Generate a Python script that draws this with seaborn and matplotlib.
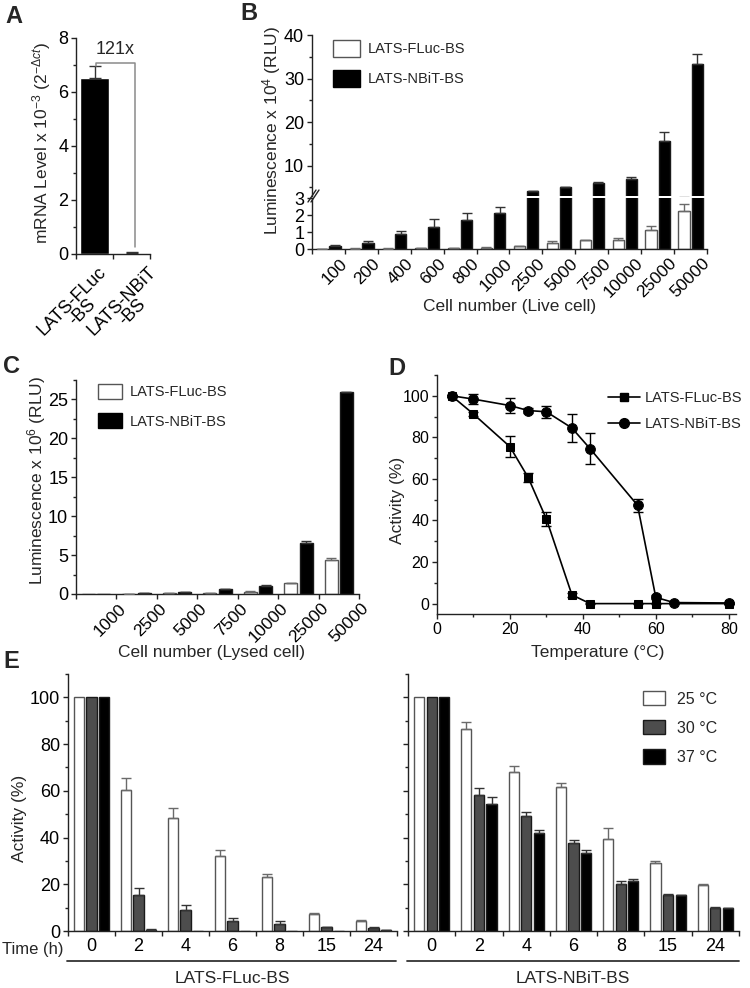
import numpy as np
import pandas as pd
import matplotlib
matplotlib.use('Agg')
import matplotlib.pyplot as plt
import matplotlib.transforms as mtransforms
from matplotlib.patches import Patch
from matplotlib.lines import Line2D
from matplotlib.ticker import MultipleLocator
import seaborn as sns

# ---------------- data ----------------
# A: mRNA level
a_constructs = ['LATS-FLuc-BS', 'LATS-NBiT-BS']
a_ticklabels = ['LATS-FLuc\n-BS', 'LATS-NBiT\n-BS']
a_values = [6.5, 0.054]
a_sem = [0.45, 0.01]

# B: live cells, luminescence x 10^4
b_cells = ['100', '200', '400', '600', '800', '1000', '2500', '5000', '7500', '10000', '25000', '50000']
b_fluc = [0.01, 0.02, 0.02, 0.04, 0.05, 0.08, 0.15, 0.33, 0.51, 0.55, 1.09, 2.25]
b_fluc_sem = [0.005, 0.01, 0.01, 0.01, 0.01, 0.02, 0.03, 0.14, 0.04, 0.07, 0.24, 0.41]
b_nbit = [0.2, 0.35, 0.88, 1.27, 1.72, 2.14, 4.07, 4.97, 5.88, 6.86, 15.6, 33.4]
b_nbit_sem = [0.05, 0.1, 0.2, 0.49, 0.39, 0.36, 0.15, 0.15, 0.3, 0.4, 2.1, 2.2]

# C: lysed cells, luminescence x 10^6
c_cells = ['1000', '2500', '5000', '7500', '10000', '25000', '50000']
c_fluc = [0.01, 0.04, 0.1, 0.15, 0.3, 1.37, 4.36]
c_fluc_sem = [0.0, 0.01, 0.01, 0.02, 0.03, 0.08, 0.22]
c_nbit = [0.03, 0.08, 0.25, 0.6, 1.06, 6.58, 25.9]
c_nbit_sem = [0.0, 0.01, 0.02, 0.04, 0.05, 0.25, 0.1]

# D: thermal stability
d_temp_fluc = [4, 10, 20, 25, 30, 37, 42, 55, 60, 80]
d_fluc = [100, 91.2, 75.5, 60.7, 40.7, 4.2, 0, 0, 0, 0]
d_fluc_sem = [0.5, 1.0, 5.0, 2.0, 3.3, 0.8, 0.3, 0.3, 0.3, 0.3]
d_temp_nbit = [4, 10, 20, 25, 30, 37, 42, 55, 60, 65, 80]
d_nbit = [100, 98.4, 95.3, 92.9, 92.3, 84.5, 74.5, 47.3, 3.0, 0.5, 0.3]
d_nbit_sem = [0.5, 2.4, 3.6, 1.3, 3.0, 6.9, 7.5, 3.2, 1.0, 0.3, 0.3]

# E: activity over time at 3 temperatures
e_times = ['0', '2', '4', '6', '8', '15', '24']
e_temps = ['25 °C', '30 °C', '37 °C']
e_fluc_25 = [100, 60.4, 48.2, 32.1, 22.9, 7.4, 4.2]
e_fluc_25_sem = [0, 4.9, 4.3, 2.5, 1.4, 0.5, 0.3]
e_fluc_30 = [100, 15.3, 8.9, 4.2, 3.2, 1.7, 1.3]
e_fluc_30_sem = [0, 2.9, 2.1, 1.4, 1.0, 0.2, 0.6]
e_fluc_37 = [100, 0.6, 0.1, 0.0, 0.0, 0.0, 0.3]
e_fluc_37_sem = [0, 0.1, 0, 0, 0, 0, 0.2]
e_nbit_25 = [100, 86.3, 68.1, 61.5, 39.2, 29.1, 19.7]
e_nbit_25_sem = [0, 3.3, 2.4, 1.9, 4.8, 0.9, 0.6]
e_nbit_30 = [100, 58.4, 49.3, 37.5, 20.3, 15.6, 9.9]
e_nbit_30_sem = [0, 2.9, 1.7, 1.4, 1.1, 0.2, 0.5]
e_nbit_37 = [100, 54.3, 41.8, 33.2, 21.4, 15.2, 9.7]
e_nbit_37_sem = [0, 2.9, 1.4, 1.4, 1.0, 0.3, 0.3]

# ---------------- style ----------------
sns.set_style('ticks')
plt.rcParams['font.family'] = ['Liberation Sans', 'DejaVu Sans']
plt.rcParams['mathtext.fontset'] = 'custom'
plt.rcParams['mathtext.rm'] = 'Liberation Sans'
plt.rcParams['mathtext.it'] = 'Liberation Sans:italic'
plt.rcParams['axes.linewidth'] = 1.0
plt.rcParams['axes.edgecolor'] = '#222222'
plt.rcParams['xtick.color'] = '#222222'
plt.rcParams['ytick.color'] = '#222222'
plt.rcParams['xtick.labelcolor'] = 'black'
plt.rcParams['ytick.labelcolor'] = 'black'

TICK = 13
LAB = 12.5
LEG = 10.5

W, H = 750, 988
fig = plt.figure(figsize=(W / 100, H / 100), dpi=100)


def box(x0, y0, x1, y1):
    return [x0 / W, 1 - y1 / H, (x1 - x0) / W, (y1 - y0) / H]


def fx(x):
    return x / W


def fy(y):
    return 1 - y / H


def style_axis(ax, size=TICK):
    sns.despine(ax=ax)
    ax.tick_params(which='major', direction='out', length=3.6, width=1, labelsize=size, pad=2)
    ax.tick_params(which='minor', direction='out', length=2.2, width=1)


def cat_ticks(ax, labels, rot=0, dx=0, dy=0, size=TICK, **kw):
    n = len(labels)
    ax.set_xlim(-0.5, n - 0.5)
    ax.set_xticks(np.arange(-0.5, n, 1.0))
    ax.set_xticklabels([])
    ax.set_xticks(np.arange(n), minor=True)
    if rot:
        ax.set_xticklabels(labels, minor=True, rotation=rot, ha='right',
                           rotation_mode='anchor', fontsize=size, **kw)
    else:
        ax.set_xticklabels(labels, minor=True, fontsize=size, **kw)
    ax.tick_params(axis='x', which='minor', length=0)
    shifts = dx if isinstance(dx, (list, tuple)) else [dx] * n
    for lab, d in zip(ax.get_xticklabels(minor=True), shifts):
        off = mtransforms.ScaledTranslation(d / 100, dy / 100, fig.dpi_scale_trans)
        lab.set_transform(lab.get_transform() + off)


def bars(ax, df, x, y, order, pal, sems, width, gap):
    sns.barplot(data=df, x=x, y=y, hue='construct', order=order, hue_order=list(pal),
                palette=pal, width=width, gap=gap, errorbar=None, saturation=1,
                legend=False, linewidth=1, ax=ax)
    conts = list(ax.containers)
    for cont, name, sem in zip(conts, pal, sems):
        face = pal[name]
        edge = '#555555' if face == 'white' else '#1a1a1a'
        ecol = '#6a6a6a' if face == 'white' else '#333333'
        for bar, s in zip(cont, sem):
            bar.set_edgecolor(edge)
            if s > 0:
                ax.errorbar(bar.get_x() + bar.get_width() / 2, bar.get_height(),
                            yerr=[[0], [s]], fmt='none', ecolor=ecol, elinewidth=1,
                            capsize=3.5, capthick=1, zorder=3)


def panel_letter(x, y, s):
    fig.text(fx(x), fy(y), s, fontsize=17, fontweight='bold', va='baseline', ha='left')


# ---------------- A ----------------
axA = fig.add_axes(box(76, 38, 150, 254))
dfA = pd.DataFrame({'construct': a_constructs, 'level': a_values})
sns.barplot(data=dfA, x='construct', y='level', color='black', width=0.8,
            errorbar=None, saturation=1, ax=axA)
for bar, s in zip(axA.containers[0], a_sem):
    axA.errorbar(bar.get_x() + bar.get_width() / 2, bar.get_height(), yerr=[[0], [s]],
                 fmt='none', ecolor='#333333', elinewidth=1, capsize=4, capthick=1)
axA.set_ylim(0, 8)
axA.yaxis.set_major_locator(MultipleLocator(2))
axA.yaxis.set_minor_locator(MultipleLocator(1))
style_axis(axA)
cat_ticks(axA, a_ticklabels, rot=45, dx=[3, 16], dy=-5, multialignment='center',
          linespacing=0.85)
axA.set_xlabel('')
axA.set_ylabel('')
top = a_values[0] + a_sem[0]
axA.plot([0.05, 0.05, 1.1, 1.1], [top, top + 0.12, top + 0.12, a_values[1] + 0.2],
         color='#8a8a8a', lw=1.1, clip_on=False)
axA.text(0.55, top + 0.3, '121x', ha='center', va='bottom', fontsize=13)
fig.text(fx(53), fy(143), 'mRNA Level x 10$^{-3}$ (2$^{-\\Delta ct}$)', rotation=90,
         ha='right', va='center', fontsize=LAB)
panel_letter(5, 23, 'A')

# ---------------- B ----------------
pal2 = {'LATS-FLuc-BS': 'white', 'LATS-NBiT-BS': 'black'}
dfB = pd.DataFrame({'cells': b_cells * 2, 'lum': b_fluc + b_nbit,
                    'construct': ['LATS-FLuc-BS'] * len(b_cells) + ['LATS-NBiT-BS'] * len(b_cells)})
axBu = fig.add_axes(box(312, 35, 707, 196))
axBl = fig.add_axes(box(312, 198, 707, 249))
for ax in (axBu, axBl):
    bars(ax, dfB, 'cells', 'lum', b_cells, pal2, [b_fluc_sem, b_nbit_sem], 0.8, 0.15)
    style_axis(ax)
    ax.set_xlabel('')
    ax.set_ylabel('')
axBu.set_ylim(3, 40)
axBu.set_yticks([10, 20, 30, 40])
axBu.yaxis.set_minor_locator(MultipleLocator(5))
axBu.spines['bottom'].set_visible(False)
axBu.set_xlim(-0.5, len(b_cells) - 0.5)
axBu.set_xticks([])
axBu.tick_params(axis='x', which='both', length=0, labelbottom=False)
axBl.set_ylim(0, 3)
axBl.set_yticks([0, 1, 2, 3])
cat_ticks(axBl, b_cells, rot=45, dx=11, dy=-2, size=12.5)
for k in range(2):
    fig.add_artist(Line2D([fx(308 + 3 * k), fx(316 + 3 * k)], [fy(202), fy(190)],
                          color='#222222', lw=1))
axBu.legend([Patch(facecolor='white', edgecolor='#555555', lw=1),
             Patch(facecolor='black', edgecolor='black', lw=1)],
            list(pal2), loc='upper left', bbox_to_anchor=(fx(333), fy(40)),
            bbox_transform=fig.transFigure, frameon=False, fontsize=LEG,
            handlelength=1.85, handleheight=1.45, labelspacing=0.85,
            handletextpad=0.55, borderpad=0, borderaxespad=0)
fig.text(fx(283), fy(130), 'Luminescence x 10$^{4}$ (RLU)', rotation=90,
         ha='right', va='center', fontsize=LAB)
fig.text(fx(510), fy(306), 'Cell number (Live cell)', ha='center', va='center', fontsize=LAB)
panel_letter(240, 20, 'B')

# ---------------- C ----------------
dfC = pd.DataFrame({'cells': c_cells * 2, 'lum': c_fluc + c_nbit,
                    'construct': ['LATS-FLuc-BS'] * len(c_cells) + ['LATS-NBiT-BS'] * len(c_cells)})
axC = fig.add_axes(box(76, 380, 359, 594))
bars(axC, dfC, 'cells', 'lum', c_cells, pal2, [c_fluc_sem, c_nbit_sem], 0.76, 0.15)
style_axis(axC)
axC.set_xlabel('')
axC.set_ylabel('')
axC.set_ylim(0, 27.5)
axC.yaxis.set_major_locator(MultipleLocator(5))
axC.yaxis.set_minor_locator(MultipleLocator(2.5))
cat_ticks(axC, c_cells, rot=45, dx=22, dy=-2, size=12.5)
axC.legend([Patch(facecolor='white', edgecolor='#555555', lw=1),
            Patch(facecolor='black', edgecolor='black', lw=1)],
           list(pal2), loc='upper left', bbox_to_anchor=(fx(98), fy(384)),
           bbox_transform=fig.transFigure, frameon=False, fontsize=LEG,
           handlelength=1.65, handleheight=1.2, labelspacing=0.95,
           handletextpad=0.55, borderpad=0, borderaxespad=0)
fig.text(fx(48), fy(480), 'Luminescence x 10$^{6}$ (RLU)', rotation=90,
         ha='right', va='center', fontsize=LAB)
fig.text(fx(212), fy(652), 'Cell number (Lysed cell)', ha='center', va='center', fontsize=LAB)
panel_letter(3, 373, 'C')

# ---------------- D ----------------
axD = fig.add_axes(box(437, 375, 736, 614))
sns.lineplot(x=d_temp_fluc, y=d_fluc, marker='s', markersize=6, color='black', lw=1.2,
             markeredgecolor='black', sort=False, errorbar=None, ax=axD)
sns.lineplot(x=d_temp_nbit, y=d_nbit, marker='o', markersize=7, color='black', lw=1.2,
             markeredgecolor='black', sort=False, errorbar=None, ax=axD)
axD.errorbar(d_temp_fluc, d_fluc, yerr=d_fluc_sem, fmt='none', ecolor='black',
             elinewidth=1, capsize=3.5, capthick=1)
axD.errorbar(d_temp_nbit, d_nbit, yerr=d_nbit_sem, fmt='none', ecolor='black',
             elinewidth=1, capsize=3.5, capthick=1)
style_axis(axD, size=11.5)
axD.set_xlim(0, 82)
axD.set_ylim(-5, 110)
axD.xaxis.set_major_locator(MultipleLocator(20))
axD.xaxis.set_minor_locator(MultipleLocator(10))
axD.yaxis.set_major_locator(MultipleLocator(20))
axD.yaxis.set_minor_locator(MultipleLocator(10))
axD.set_yticks(np.arange(0, 101, 20))
axD.legend([Line2D([], [], color='black', lw=1.2, marker='s', markersize=6),
            Line2D([], [], color='black', lw=1.2, marker='o', markersize=7)],
           ['LATS-FLuc-BS', 'LATS-NBiT-BS'], loc='upper left',
           bbox_to_anchor=(fx(608), fy(391)), bbox_transform=fig.transFigure,
           frameon=False, fontsize=LEG, handlelength=2.2, labelspacing=0.8,
           handletextpad=0.35, borderpad=0, borderaxespad=0)
fig.text(fx(405), fy(500), 'Activity (%)', rotation=90, ha='right', va='center', fontsize=LAB)
fig.text(fx(598), fy(652), 'Temperature (°C)', ha='center', va='center', fontsize=LAB)
panel_letter(388, 375, 'D')

# ---------------- E ----------------
pal3 = {'25 °C': 'white', '30 °C': '#4d4d4d', '37 °C': 'black'}
dfE1 = pd.DataFrame({'time': e_times * 3, 'act': e_fluc_25 + e_fluc_30 + e_fluc_37,
                     'construct': [t for t in e_temps for _ in e_times]})
dfE2 = pd.DataFrame({'time': e_times * 3, 'act': e_nbit_25 + e_nbit_30 + e_nbit_37,
                     'construct': [t for t in e_temps for _ in e_times]})
axE1 = fig.add_axes(box(68, 674, 397, 931))
axE2 = fig.add_axes(box(408, 674, 739, 931))
bars(axE1, dfE1, 'time', 'act', e_times, pal3,
     [e_fluc_25_sem, e_fluc_30_sem, e_fluc_37_sem], 0.8, 0.2)
bars(axE2, dfE2, 'time', 'act', e_times, pal3,
     [e_nbit_25_sem, e_nbit_30_sem, e_nbit_37_sem], 0.8, 0.2)
for ax in (axE1, axE2):
    style_axis(ax)
    ax.set_xlabel('')
    ax.set_ylabel('')
    ax.set_ylim(0, 110)
    ax.yaxis.set_major_locator(MultipleLocator(20))
    ax.yaxis.set_minor_locator(MultipleLocator(10))
    ax.set_yticks(np.arange(0, 101, 20))
    cat_ticks(ax, e_times)
    ax.tick_params(axis='x', which='minor', pad=5)
axE2.tick_params(axis='y', labelleft=False)
axE2.legend([Patch(facecolor=c, edgecolor='#555555' if c == 'white' else '#1a1a1a', lw=1)
             for c in pal3.values()], list(pal3), loc='upper left',
            bbox_to_anchor=(fx(643), fy(691)), bbox_transform=fig.transFigure,
            frameon=False, fontsize=11.5, handlelength=1.4, handleheight=1.0,
            labelspacing=0.85, handletextpad=0.75, borderpad=0, borderaxespad=0)
fig.text(fx(27), fy(818), 'Activity (%)', rotation=90, ha='right', va='center', fontsize=LAB)
fig.text(fx(63), fy(949), 'Time (h)', ha='right', va='center', fontsize=12)
fig.add_artist(Line2D([fx(67), fx(396)], [fy(961), fy(961)], color='#333333', lw=1.3))
fig.add_artist(Line2D([fx(407), fx(739)], [fy(961), fy(961)], color='#333333', lw=1.3))
fig.text(fx(232), fy(978), 'LATS-FLuc-BS', ha='center', va='center', fontsize=LAB)
fig.text(fx(573), fy(978), 'LATS-NBiT-BS', ha='center', va='center', fontsize=LAB)
panel_letter(3, 668, 'E')

fig.savefig('out.png', dpi=100)
